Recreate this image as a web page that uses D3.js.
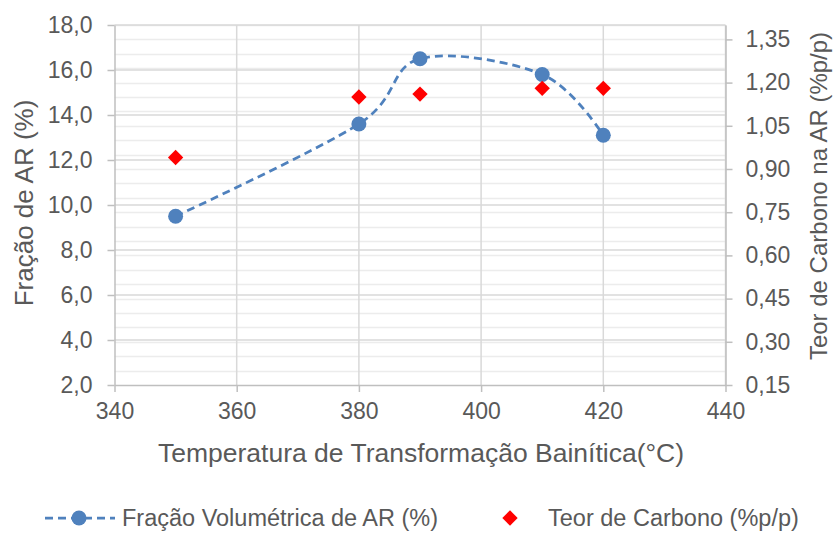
<!DOCTYPE html>
<html>
<head>
<meta charset="utf-8">
<script src="https://cdn.jsdelivr.net/npm/d3@7"></script>
<style>
  html, body { margin: 0; padding: 0; background: #fff; }
  svg { display: block; font-family: "Liberation Sans", Arial, sans-serif; }
</style>
</head>
<body>
<svg id="chart" width="833" height="533"></svg>
<script>
// Temperatures (°C) of the bainitic transformation
const temperatures = [350, 380, 390, 410, 420];
// Retained austenite volume fraction (%)
const fracaoAR = [9.5, 13.6, 16.5, 15.8, 13.1];
// Carbon content in retained austenite (%p/p)
const teorCarbono = [0.94, 1.15, 1.16, 1.18, 1.18];

const xTicks = [340, 360, 380, 400, 420, 440];
const yLeftTicks = [2, 4, 6, 8, 10, 12, 14, 16, 18];
const yRightTicks = [0.15, 0.30, 0.45, 0.60, 0.75, 0.90, 1.05, 1.20, 1.35];

const labels = {
  x: "Temperatura de Transformação Bainítica(°C)",
  yLeft: "Fração de AR (%)",
  yRight: "Teor de Carbono na AR (%p/p)",
  series1: "Fração Volumétrica de AR (%)",
  series2: "Teor de Carbono (%p/p)"
};

const svg = d3.select("#chart");
const m = { left: 114.5, right: 725.5, top: 25, bottom: 385 };

const x = d3.scaleLinear().domain([340, 440]).range([m.left, m.right]);
const yL = d3.scaleLinear().domain([2, 18]).range([m.bottom, m.top]);
const yR = d3.scaleLinear().domain([0.15, 1.40]).range([m.bottom, m.top]);

const textColor = "#595959";
const fmt = d3.format(".1f");
const fmtR = d3.format(".2f");
const comma = s => s.replace(".", ",");

// faint minor gridlines (secondary axis, every 0.05)
const minor = d3.range(0.20, 1.401, 0.05);
svg.append("g").selectAll("line").data(minor).join("line")
  .attr("x1", m.left).attr("x2", m.right)
  .attr("y1", d => Math.round(yR(d)) + 0.5).attr("y2", d => Math.round(yR(d)) + 0.5)
  .attr("stroke", "#ececec").attr("stroke-width", 1.3);

// major horizontal gridlines
svg.append("g").selectAll("line").data(yLeftTicks.slice(1)).join("line")
  .attr("x1", m.left).attr("x2", m.right)
  .attr("y1", d => yL(d)).attr("y2", d => yL(d))
  .attr("stroke", "#d9d9d9").attr("stroke-width", 1.5);

// vertical gridlines
svg.append("g").selectAll("line").data(xTicks.slice(1)).join("line")
  .attr("x1", d => x(d)).attr("x2", d => x(d))
  .attr("y1", m.top).attr("y2", m.bottom)
  .attr("stroke", "#d9d9d9").attr("stroke-width", 1.5);

// axes
function styleAxis(g) {
  g.select(".domain").attr("stroke", "#bfbfbf").attr("stroke-width", 1.5);
  g.selectAll(".tick line").attr("stroke", "#bfbfbf").attr("stroke-width", 1.5);
  g.selectAll(".tick text").attr("fill", textColor).style("font-size", "23px");
}

svg.append("g").attr("transform", `translate(0,${m.bottom})`)
  .call(d3.axisBottom(x).tickValues(xTicks).tickSize(7).tickSizeOuter(0).tickPadding(11))
  .call(styleAxis);

svg.append("g").attr("transform", `translate(${m.left},0)`)
  .call(d3.axisLeft(yL).tickValues(yLeftTicks).tickSize(7).tickSizeOuter(0).tickPadding(15)
    .tickFormat(d => comma(fmt(d))))
  .call(styleAxis);

svg.append("g").attr("transform", `translate(${m.right},0)`)
  .call(d3.axisRight(yR).tickValues(yRightTicks).tickSize(7).tickSizeOuter(0).tickPadding(13)
    .tickFormat(d => comma(fmtR(d))))
  .call(styleAxis);

// axis titles
svg.append("text").attr("x", 421).attr("y", 462)
  .attr("text-anchor", "middle").attr("fill", textColor).style("font-size", "26.5px")
  .text(labels.x);

svg.append("text").attr("transform", `translate(33,203) rotate(-90)`)
  .attr("text-anchor", "middle").attr("fill", textColor).style("font-size", "26px")
  .text(labels.yLeft);

svg.append("text").attr("transform", `translate(827,196) rotate(-90)`)
  .attr("text-anchor", "middle").attr("fill", textColor).style("font-size", "24px")
  .text(labels.yRight);

// series 1: smoothed dashed line with circle markers
const blue = "#4f81bd";
const pts1 = temperatures.map((t, i) => [t, fracaoAR[i]]);
svg.append("path").datum(pts1)
  .attr("d", d3.line().x(d => x(d[0])).y(d => yL(d[1])).curve(d3.curveCardinal.tension(0)))
  .attr("fill", "none").attr("stroke", blue).attr("stroke-width", 2.75)
  .attr("stroke-dasharray", "8,5");
svg.append("g").selectAll("circle").data(pts1).join("circle")
  .attr("cx", d => x(d[0])).attr("cy", d => yL(d[1])).attr("r", 7.5)
  .attr("fill", blue);

// series 2: red diamonds on the secondary axis
const diamond = d3.symbol().type(d3.symbolDiamond2).size(150);
const pts2 = temperatures.map((t, i) => [t, teorCarbono[i]]);
svg.append("g").selectAll("path").data(pts2).join("path")
  .attr("transform", d => `translate(${x(d[0])},${yR(d[1])})`)
  .attr("d", diamond).attr("fill", "#ff0000");

// legend
const ly = 518;
const lg = svg.append("g");
lg.append("line").attr("x1", 45).attr("x2", 115).attr("y1", ly).attr("y2", ly)
  .attr("stroke", blue).attr("stroke-width", 2.75).attr("stroke-dasharray", "8,5");
lg.append("circle").attr("cx", 79).attr("cy", ly).attr("r", 7.5).attr("fill", blue);
lg.append("text").attr("x", 122).attr("y", ly).attr("dy", "0.35em")
  .attr("fill", textColor).style("font-size", "23.5px").text(labels.series1);
lg.append("path").attr("transform", `translate(510,${ly})`).attr("d", diamond).attr("fill", "#ff0000");
lg.append("text").attr("x", 548).attr("y", ly).attr("dy", "0.35em")
  .attr("fill", textColor).style("font-size", "23.5px").text(labels.series2);
</script>
</body>
</html>
